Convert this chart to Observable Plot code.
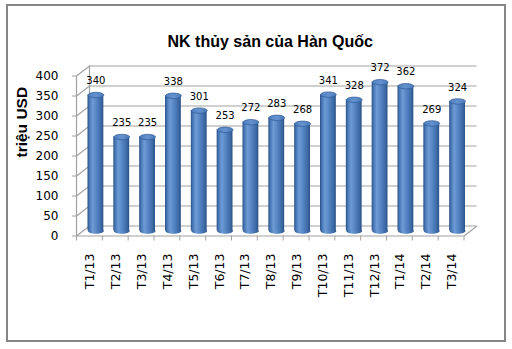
<!DOCTYPE html>
<html>
<head>
<meta charset="utf-8">
<script src="https://cdn.jsdelivr.net/npm/d3@7"></script>
<script src="https://cdn.jsdelivr.net/npm/@observablehq/plot@0.6"></script>
<style>
  body { margin: 0; background: #fff; }
  #chart { position: relative; width: 512px; height: 349px; overflow: hidden; background: #fff; }
  #chart .border { position: absolute; left: 6px; top: 4px; width: 500px; height: 338px;
    border: 2px solid #868686; box-sizing: border-box; pointer-events: none; }
  #chart svg { position: absolute; left: 0; top: 0; }
</style>
</head>
<body>
<div id="chart"><div class="border"></div></div>
<script>
// Monthly seafood imports of South Korea (million USD)
const title = "NK thủy sản của Hàn Quốc";
const yLabel = "triệu USD";
const months = ["T1/13", "T2/13", "T3/13", "T4/13", "T5/13", "T6/13", "T7/13", "T8/13",
  "T9/13", "T10/13", "T11/13", "T12/13", "T1/14", "T2/14", "T3/14"];
const values = [340, 235, 235, 338, 301, 253, 272, 283, 268, 341, 328, 372, 362, 269, 324];
const yTicks = [0, 50, 100, 150, 200, 250, 300, 350, 400];

const rows = months.map((month, index) => ({month, index, value: values[index]}));
const n = months.length;

// pseudo-3D depth of the box (pixels) — back wall sits up and to the right
const depth = {x: 13, y: -10};
const mid = {x: depth.x / 2, y: depth.y / 2};
const grid = "#a2a2a2";

// symbol: a receding edge from the front plane to the back wall
const edge = {draw(context) { context.moveTo(0, 0); context.lineTo(depth.x, depth.y); }};
// symbol: flat ellipse for cylinder caps (rx from the dot radius)
const ellipse = {
  draw(context, size) {
    const rx = Math.sqrt(size / Math.PI), ry = rx * 0.34, k = 0.5523;
    context.moveTo(-rx, 0);
    context.bezierCurveTo(-rx, -ry * k, -rx * k, -ry, 0, -ry);
    context.bezierCurveTo(rx * k, -ry, rx, -ry * k, rx, 0);
    context.bezierCurveTo(rx, ry * k, rx * k, ry, 0, ry);
    context.bezierCurveTo(-rx * k, ry, -rx, ry * k, -rx, 0);
    context.closePath();
  }
};

// gradients for the cylinder body and cap
function gradients() {
  const defs = d3.create("svg:defs");
  const body = defs.append("linearGradient").attr("id", "cylBody")
    .attr("x1", 0).attr("x2", 1).attr("y1", 0).attr("y2", 0);
  [[0, "#2a4f82"], [0.12, "#4677b6"], [0.32, "#6e9bd4"], [0.55, "#5686c4"],
   [0.85, "#3c6aa6"], [1, "#2b5186"]]
    .forEach(([o, c]) => body.append("stop").attr("offset", o).attr("stop-color", c));
  const top = defs.append("linearGradient").attr("id", "cylTop")
    .attr("x1", 0).attr("x2", 1).attr("y1", 0).attr("y2", 0);
  [[0, "#4d7fbf"], [0.5, "#6592cf"], [1, "#4a7aba"]]
    .forEach(([o, c]) => top.append("stop").attr("offset", o).attr("stop-color", c));
  return defs.node();
}

const chart = Plot.plot({
  width: 512,
  height: 349,
  marginLeft: 76,
  marginRight: 48.5,
  marginTop: 75.5,
  marginBottom: 113.5,
  style: {fontFamily: "DejaVu Sans", fontSize: "12px", color: "#000", background: "transparent"},
  x: {type: "linear", domain: [0, n], label: null},
  y: {domain: [0, 400], label: null},
  marks: [
    gradients,
    // back wall gridlines and back-left edge
    Plot.ruleY(yTicks, {x1: 0, x2: n, dx: depth.x, dy: depth.y, stroke: grid, strokeWidth: 1.2}),
    Plot.ruleX([0], {y1: 0, y2: 400, dx: depth.x, dy: depth.y, stroke: grid, strokeWidth: 1.2}),
    // side wall edges and right floor edge
    Plot.dot(yTicks, {x: 0, y: d => d, symbol: edge, r: 1, fill: "none", stroke: grid, strokeWidth: 1.2}),
    Plot.dot([0], {x: n, y: d => d, symbol: edge, r: 1, fill: "none", stroke: grid, strokeWidth: 1.2}),
    // front axis lines
    Plot.ruleX([0], {y1: 0, y2: 400, stroke: grid, strokeWidth: 1.2}),
    Plot.ruleY([0], {x1: 0, x2: n, stroke: grid, strokeWidth: 1.2}),
    // cylinders: bottom cap, body, top cap
    Plot.dot(rows, {x: d => d.index + 0.5, y: 0, dx: mid.x, dy: mid.y, r: 7.9,
      symbol: ellipse, fill: "url(#cylBody)", stroke: "none"}),
    Plot.rect(rows, {x1: d => d.index, x2: d => d.index + 1, y1: 0, y2: "value",
      insetLeft: 5, insetRight: 5, dx: mid.x, dy: mid.y, fill: "url(#cylBody)"}),
    Plot.dot(rows, {x: d => d.index + 0.5, y: "value", dx: mid.x, dy: mid.y, r: 7.9,
      symbol: ellipse, fill: "url(#cylTop)", stroke: "#2f5a92", strokeWidth: 0.7}),
    // value labels
    Plot.text(rows, {x: d => d.index + 0.5, y: "value", text: d => String(d.value),
      dx: mid.x, dy: mid.y - 14, fontSize: 10, fill: "#000"}),
    // axes
    Plot.axisY({ticks: yTicks, tickSize: 4, tickPadding: 14, stroke: grid, fill: "#000", fontSize: 12}),
    Plot.axisX({ticks: d3.range(n + 1), tickSize: 5, tickFormat: () => "", stroke: grid}),
    Plot.text(rows, {x: d => d.index + 0.5, y: 0, text: "month", rotate: -90, textAnchor: "end",
      dx: 1, dy: 17.5, fontSize: 12.5, fill: "#000"}),
    // titles
    Plot.text([title], {frameAnchor: "top", dy: -40.5, fontSize: 16, fontWeight: "bold",
      fontFamily: "Liberation Sans", fill: "#000"}),
    Plot.text([yLabel], {frameAnchor: "left", dx: -54, dy: 1.5, rotate: -90, fontSize: 15.5,
      fontWeight: "bold", fontFamily: "Liberation Sans", fill: "#000"})
  ]
});

document.getElementById("chart").appendChild(chart);
</script>
</body>
</html>
